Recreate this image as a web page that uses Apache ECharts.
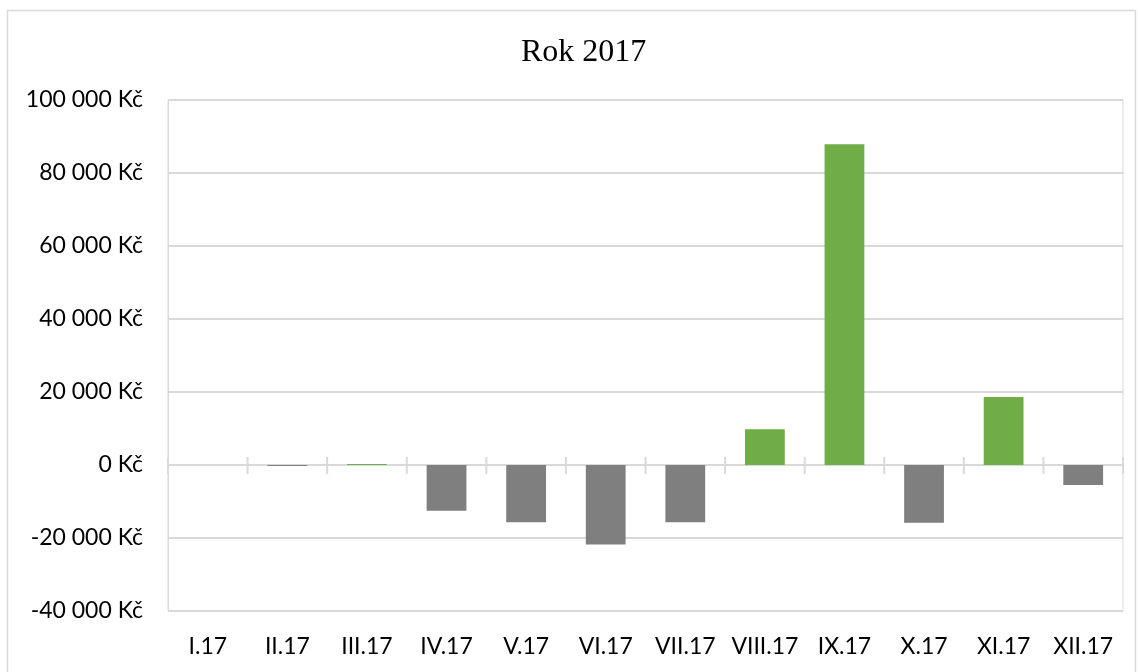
<!DOCTYPE html>
<html>
<head>
<meta charset="utf-8">
<script src="https://cdn.jsdelivr.net/npm/echarts@6/dist/echarts.min.js"></script>
<style>
  html, body { margin: 0; padding: 0; background: #fff; }
  #chart { width: 1138px; height: 672px; }
</style>
</head>
<body>
<div id="chart"></div>
<script>
// měsíce
const months = ["I.17", "II.17", "III.17", "IV.17", "V.17", "VI.17",
  "VII.17", "VIII.17", "IX.17", "X.17", "XI.17", "XII.17"];
// hodnoty v Kč
const values = [0, -300, 300, -12500, -15700, -21800,
  -15700, 9800, 87900, -15800, 18600, -5500];
// osa y
const yMin = -40000;
const yMax = 100000;
const yStep = 20000;

const GREEN = "#70AD47";
const GREY = "#7F7F7F";
const LINE = "#D9D9D9";
const labelFont = "Lato";

// 100000 -> "100 000 Kč"
const formatKc = (v) => {
  const s = Math.abs(v).toString().replace(/\B(?=(\d{3})+(?!\d))/g, " ");
  return (v < 0 ? "-" : "") + s + " Kč";
};

// rysky na nulové ose (přes nulu nahoru i dolů)
const renderTick = (params, api) => {
  const idx = api.value(0);
  const c = api.coord([idx, 0]);
  const half = api.size([1, 0])[0] / 2;
  const xs = [c[0] - half];
  if (idx === months.length - 1) xs.push(c[0] + half);
  return {
    type: "group",
    children: xs.map((x) => ({
      type: "line",
      shape: { x1: x, y1: c[1] - 8, x2: x, y2: c[1] + 9 },
      style: { stroke: LINE, lineWidth: 2 },
    })),
  };
};

const myChart = echarts.init(document.getElementById("chart"));
const option = {
  animation: false,
  backgroundColor: "#fff",
  title: {
    text: "Rok 2017",
    left: 516,
    top: 32,
    textStyle: {
      fontFamily: "Liberation Serif",
      fontWeight: "normal",
      fontSize: 32,
      color: "#000",
    },
  },
  graphic: [
    {
      type: "rect",
      shape: { x: 7.5, y: 10.5, width: 1128, height: 700 },
      style: { fill: "none", stroke: LINE, lineWidth: 1.5 },
      silent: true,
    },
  ],
  grid: {
    left: 168,
    right: 15,
    top: 100,
    bottom: 61,
    show: true,
    borderColor: LINE,
    borderWidth: 1,
  },
  xAxis: {
    type: "category",
    data: months,
    position: "bottom",
    axisLine: { show: false, onZero: false },
    axisTick: { show: false },
    axisLabel: {
      fontFamily: labelFont,
      fontSize: 23,
      color: "#000",
      margin: 24,
      interval: 0,
    },
  },
  yAxis: {
    type: "value",
    min: yMin,
    max: yMax,
    interval: yStep,
    axisLine: { show: true, lineStyle: { color: LINE } },
    axisTick: { show: false },
    splitLine: { lineStyle: { color: LINE, width: 2 } },
    axisLabel: {
      formatter: formatKc,
      fontFamily: labelFont,
      fontSize: 23,
      color: "#000",
      margin: 25,
    },
  },
  series: [
    {
      type: "bar",
      data: values,
      barWidth: "50%",
      itemStyle: {
        color: (p) => (p.value >= 0 ? GREEN : GREY),
      },
      z: 3,
    },
    {
      type: "custom",
      renderItem: renderTick,
      data: months.map((m, i) => [i, 0]),
      silent: true,
      z: 2,
    },
  ],
};
myChart.setOption(option);
</script>
</body>
</html>
